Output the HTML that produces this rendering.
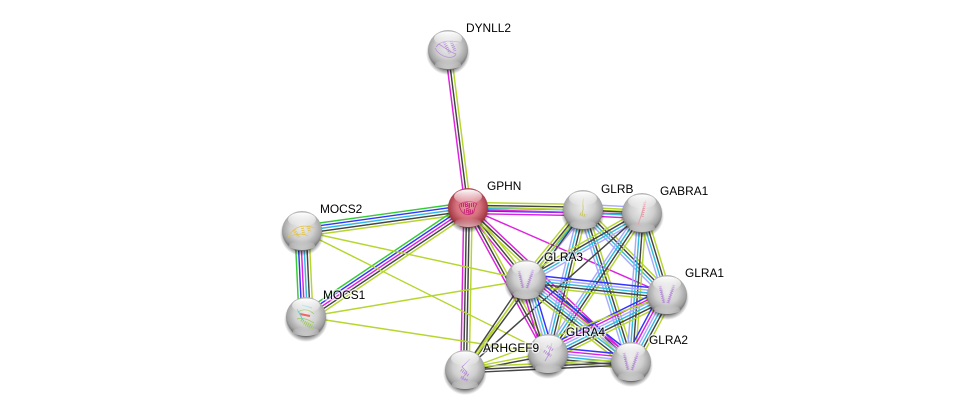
<!DOCTYPE html>
<html><head><meta charset="utf-8"><style>
html,body{margin:0;padding:0;background:#fff;width:976px;height:415px;overflow:hidden}
svg{display:block}
text{font:11.9px "Liberation Sans",sans-serif;fill:#000;paint-order:stroke;stroke:rgba(255,255,255,.6);stroke-width:3px}
</style></head><body>
<svg id="s" xmlns="http://www.w3.org/2000/svg" width="976" height="415" viewBox="0 0 976 415">
<defs>
<radialGradient id="g" cx=".5" cy=".42" r=".6"><stop offset="0" stop-color="#ececec"/><stop offset=".5" stop-color="#cfcfcf"/><stop offset=".8" stop-color="#a2a2a2"/><stop offset=".95" stop-color="#6e6e6e"/><stop offset="1" stop-color="#5c5c5c"/></radialGradient>
<radialGradient id="r" cx=".5" cy=".45" r=".6"><stop offset="0" stop-color="#eb9aa4"/><stop offset=".5" stop-color="#d4707c"/><stop offset=".82" stop-color="#a53a45"/><stop offset="1" stop-color="#6f1a22"/></radialGradient>
<linearGradient id="h" x1="0" y1="0" x2="0" y2="1"><stop offset="0" stop-color="#fff" stop-opacity="1"/><stop offset="1" stop-color="#fff" stop-opacity=".1"/></linearGradient>
<linearGradient id="b" x1="0" y1="0" x2="0" y2="1"><stop offset="0" stop-color="#fff" stop-opacity="0"/><stop offset="1" stop-color="#fff" stop-opacity=".6"/></linearGradient>
<radialGradient id="sh"><stop offset=".78" stop-color="#000" stop-opacity=".45"/><stop offset="1" stop-color="#000" stop-opacity="0"/></radialGradient>
</defs>
<g id="e" fill="none" stroke-width="1.45"></g>
<g id="n"></g>
<text x="466" y="32">DYNLL2</text>
<text x="487" y="190">GPHN</text>
<text x="601" y="193">GLRB</text>
<text x="660" y="195">GABRA1</text>
<text x="320" y="213">MOCS2</text>
<text x="323" y="299">MOCS1</text>
<text x="544" y="261">GLRA3</text>
<text x="685" y="277">GLRA1</text>
<text x="566" y="336">GLRA4</text>
<text x="649" y="344">GLRA2</text>
<text x="483" y="352">ARHGEF9</text>
</svg>
<script>
var N={D:[448,50],P:[468,208],B:[583,210],G:[642,213],M2:[302,231],M1:[306,317],A3:[526,280],A1:[667,295],A4:[548,354],A2:[631,362],R:[465,370]};
var C={g:'#3c3',b:'#33f',c:'#3bd',m:'#d2d',k:'#444',o:'#b5d62e',l:'#aaf'};
var E=[
['D','P','mko'],['P','M2','gbcko'],['P','M1','gbmko'],['M2','M1','gbmcko'],
['P','B','okcbm'],['P','G','om'],['P','A1','m'],['P','A3','mko'],['P','A4','mko'],['P','A2','mko'],['P','R','mkko'],
['M2','A3','o'],['M2','A4','o'],['M1','A3','o'],['M1','A4','o'],
['B','G','lokcm'],['B','A3','okcl'],['B','A1','lcko'],['B','A4','lcko'],['B','A2','lcko'],['B','R','ok'],
['G','A3','okcl'],['G','A1','lcko'],['G','A4','lcko'],['G','A2','lcko'],['G','R','k'],
['A3','A1','blcko'],['A3','A4','mklcb'],['A3','A2','bmlcko'],['A3','R','ko'],
['A1','A4','bmlcko'],['A1','A2','bmlcko'],['A1','R','o'],
['A4','A2','bmlcko'],['R','A4','ok'],['R','A2','okk']
];
var h='';
E.forEach(function(e){var a=N[e[0]],b=N[e[1]],d=Math.hypot(b[0]-a[0],b[1]-a[1]),ux=(b[0]-a[0])/d,uy=(b[1]-a[1])/d,s=e[2],S=2.8;
 var nx=-uy,ny=ux;
 if(Math.abs(uy)>Math.abs(ux)){if(nx<0){nx=-nx;ny=-ny}}else{if(ny<0){nx=-nx;ny=-ny}}
 for(var i=0;i<s.length;i++){var o=(i-(s.length-1)/2)*S;
  h+='<line x1="'+(a[0]+nx*o).toFixed(1)+'" y1="'+(a[1]+ny*o).toFixed(1)+'" x2="'+(b[0]+nx*o).toFixed(1)+'" y2="'+(b[1]+ny*o).toFixed(1)+'" stroke="'+C[s[i]]+'"/>';}
});
document.getElementById('e').innerHTML=h;
var H='M-7 -9L-3 8M7 -10L1 8';
var P={
D:['#b78fd6','M-12 -3C-6 -12 8 -8 12 -8M-13 -2C-8 8 6 10 8 4C2 2 -6 -4 -9 -6','M-4 -8L2 3M3 -9L7 1'],
P:['#c92a78','M-9 -3C-4 -8 5 -7 9 -4C5 0 8 5 3 6C-3 8 -7 5 -9 -3','M-7 -3L7 -3M-4 3L6 4M-2 -6L2 6'],
B:['#c9c65a','M1 -12C-2 -5 2 -2 -1 3','M-3 4L3 6'],
G:['#e59aa4','M4 -13L1 -3L-2 6L-4 12','M3 -11L0 4'],
M2:['#e2c657','M-14 6C-9 -3 -1 -8 13 -3M-12 5C-5 3 2 2 6 5','M-8 -1L-3 6M0 -5L2 4M6 -5L8 1'],
M1:['#9ec95a','M-8 -5C-2 -9 4 -7 8 -3M-9 2C-3 0 3 3 8 6','M-5 3L6 9M-2 6L8 12'],
A3:['#b78fd6',H,H],A1:['#b78fd6',H,H],
A4:['#b78fd6','M4 -11L0 2L-3 7','M-4 -3L3 2M-1 -8L5 -4'],
A2:['#b78fd6',H,H],
R:['#b78fd6','M5 -11L-3 -3L2 2L-3 9L3 10','M-4 0L4 6M-4 7L3 11']};
var q='';
for(var k in N){var x=N[k][0],y=N[k][1],p=P[k],red=k=='P';
 q+='<g transform="translate('+x+','+y+')"><circle cy="3" r="22" fill="url(#sh)"/><circle r="20" fill="url(#'+(red?'r':'g')+')"/>'
 +'<path d="'+p[1]+'" fill="none" stroke="'+p[0]+'" stroke-width=".8"/>'
 +'<path d="'+p[2]+'" fill="none" stroke="'+p[0]+'" stroke-width="'+(red?4:3)+'" stroke-dasharray="1 1"/>'
 +(k=='M1'?'<path d="M-6 -3L4 -1" stroke="#e66" stroke-width="2" fill="none"/><path d="M-9 -8L-3 3M-4 -12L6 -9" stroke="#6cd" fill="none"/>':'')
 +'<ellipse cy="-11.5" rx="14" ry="7" fill="url(#h)"/><ellipse cy="14.5" rx="13" ry="4.5" fill="url(#b)"/></g>';}
document.getElementById('n').innerHTML=q;
</script>
</body></html>
